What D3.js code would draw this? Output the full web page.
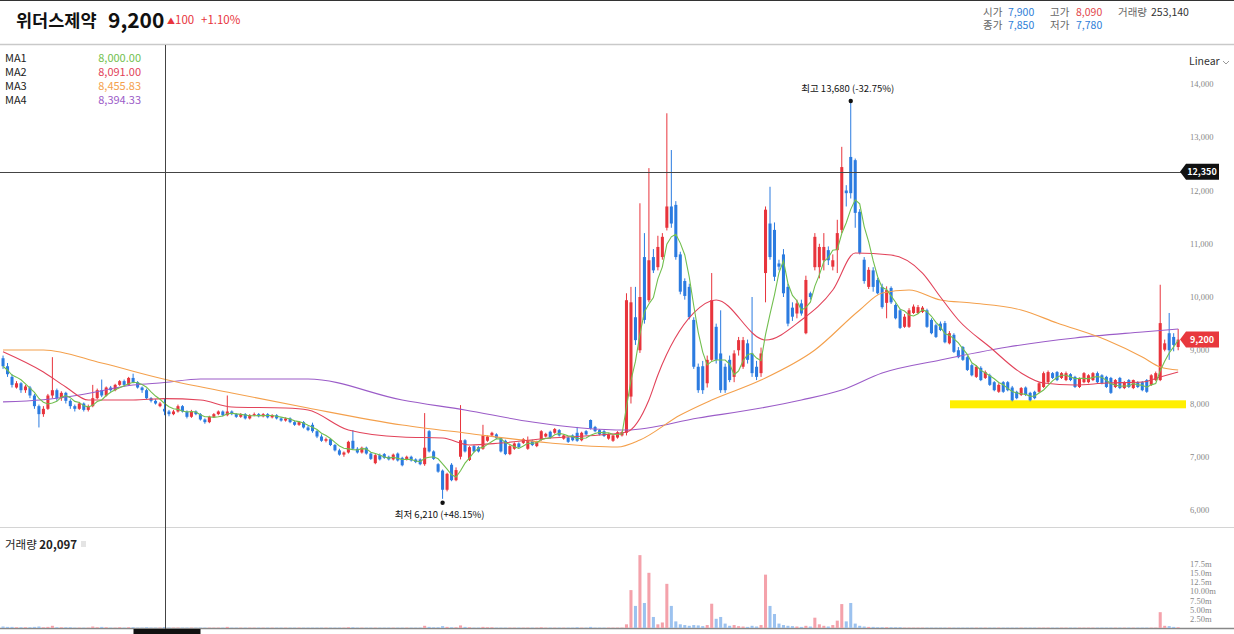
<!DOCTYPE html>
<html><head><meta charset="utf-8">
<script src="https://cdn.jsdelivr.net/npm/d3@7"></script>
<style>
html,body{margin:0;padding:0;background:#fff;}
svg{display:block;font-family:"Noto Sans CJK KR","Noto Sans",sans-serif;}
</style></head>
<body><svg id="c" width="1234" height="634"></svg>
<script>
// Daily candles: open / high / low / close (KRW), volume in millions of shares
const opens = [
8850,8700,8500,8300,8380,8250,8300,8150,7950,7800, 7900,8150,8250,8100,8200,8050,7950,7900,8000,7880,
7950,8100,8250,8150,8300,8250,8350,8420,8350,8480, 8400,8300,8250,8100,8050,7950,7900,7850,7800,7850,
7950,7850,7750,7850,7800,7700,7650,7750,7800,7850, 7780,7850,7800,7750,7800,7720,7780,7800,7760,7800,
7740,7780,7720,7680,7720,7650,7600,7650,7550,7600, 7480,7380,7300,7330,7220,7120,7040,7080,7300,7150,
7080,7170,7060,6880,7030,7050,7000,6950,7060,6980, 6950,7000,6950,6950,6860,7480,7100,6860,6740,6380,
6850,6560,7000,7310,6940,7200,7180,7150,7300,7400, 7420,7350,7300,7050,7150,7250,7260,7150,7300,7200,
7320,7380,7470,7450,7500,7340,7360,7400,7450,7310, 7480,7690,7560,7500,7480,7340,7300,7360,7400,7450,
8130,9620,9000,10750,9940,10750,10560,10750,11300,11700, 11730,10800,10300,10190,9570,8690,8700,8380,8820,9440,
8940,8690,8820,8500,9000,8690,9130,8940,8690,8570, 10450,11380,11260,10630,10800,10190,9800,9690,9880,9320,
10070,10560,10560,10690,10880,10570,10880,11260,12000,12630, 12570,11600,10700,10190,10500,10320,10190,9890,10170,9850,
9750,9440,9440,9700,9700,9720,9750,9570,9470,9500, 9510,9130,9290,9000,9060,8870,8720,8500,8670,8480,
8530,8400,8220,8400,8400,8300,8220,8160,8300,8200, 8220,8220,8310,8400,8570,8590,8480,8440,8550,8500,
8310,8400,8400,8440,8570,8530,8500,8480,8310,8480, 8290,8440,8290,8400,8400,8440,8350,8440,8440,9010,
9320,9250,9060
];
const highs = [
8900,8760,8550,8420,8400,8350,8330,8180,7980,7950, 8180,8870,8280,8230,8220,8080,7980,8030,8020,7980,
8350,8280,8450,8320,8330,8370,8440,8450,8500,8560, 8420,8320,8280,8120,8080,8030,8090,7880,7880,7980,
7970,7870,7880,7870,7820,7720,7770,7820,7870,7870, 8150,7870,7820,7820,7820,7800,7830,7820,7820,7820,
7800,7800,7740,7740,7740,7680,7670,7670,7580,7640, 7500,7420,7360,7350,7240,7150,7100,7300,7500,7180,
7190,7190,7080,7050,7060,7070,7020,7060,7080,7000, 7020,7020,6970,6970,7820,7500,7120,6880,6760,6700,
6880,6800,7970,7330,7200,7220,7200,7600,7400,7470, 7440,7370,7320,7220,7270,7270,7350,7380,7320,7300,
7500,7450,7490,7540,7520,7420,7380,7420,7560,7470, 7500,7700,7580,7520,7500,7440,7420,7480,7480,10070,
10190,10190,11760,11200,12420,10900,11150,11200,13450,12760, 11800,10850,10350,10250,9620,8750,8800,8900,10450,9500,
9750,8750,8900,9000,9250,9250,9200,10000,8800,9050, 11700,12070,11400,10700,10900,10250,9900,9950,9950,10400,
10100,11200,11000,11200,10950,10800,11450,12820,12100,13680, 12600,11650,10750,10560,10560,10360,10250,10200,10200,9880,
9780,9680,9790,9860,9850,9830,9780,9600,9500,9540, 9550,9360,9320,9060,9080,8900,8750,8720,8700,8620,
8560,8420,8380,8420,8420,8330,8240,8310,8320,8220, 8240,8400,8600,8620,8590,8610,8590,8600,8570,8520,
8490,8590,8550,8590,8600,8550,8520,8500,8460,8500, 8420,8460,8450,8420,8420,8460,8550,8600,10230,9200,
9700,9320,9400
];
const lows = [
8650,8500,8300,8280,8200,8200,8100,7900,7550,7750, 7880,8100,8050,8050,8000,7900,7850,7880,7850,7850,
7930,8080,8120,8130,8220,8230,8330,8320,8330,8380, 8280,8200,8080,8020,7980,7930,7780,7760,7780,7830,
7830,7720,7730,7780,7680,7620,7630,7730,7780,7760, 7760,7780,7730,7730,7700,7700,7760,7740,7740,7720,
7720,7700,7660,7660,7630,7580,7580,7530,7480,7450, 7350,7280,7270,7200,7100,7020,7000,7060,7130,7060,
7060,7040,6940,6860,6930,6960,6930,6930,6910,6820, 6930,6910,6880,6840,6830,7080,6940,6700,6210,6350,
6540,6540,6950,7080,6920,7080,7080,7130,7280,7380, 7330,7080,7030,7030,7130,7160,7240,7130,7200,7180,
7300,7360,7340,7430,7380,7320,7260,7290,7280,7290, 7400,7510,7460,7400,7370,7320,7280,7340,7380,7400,
8000,9100,8950,9500,9900,10450,10500,10700,11250,11300, 10700,10050,9950,9580,8650,8200,8180,8300,8800,8750,
8200,8200,8400,8400,8900,8650,8750,8500,8440,8500, 9900,10700,10300,10500,10000,9450,9550,9600,9650,9300,
9950,10500,10350,10500,10600,10500,10450,11200,11700,11850, 11300,10800,10250,10150,10100,10050,9780,9600,9870,9580,
9400,9420,9420,9680,9680,9700,9420,9300,9230,9360, 9130,9110,8950,8850,8800,8610,8510,8480,8420,8460,
8330,8230,8200,8200,8230,8040,8080,8140,8140,8040, 8080,8200,8290,8380,8460,8420,8460,8420,8420,8290,
8290,8380,8380,8420,8380,8360,8290,8180,8290,8270, 8270,8290,8270,8290,8230,8200,8330,8420,8420,8980,
8820,8980,9000
];
const closes = [
8700,8550,8350,8380,8250,8320,8150,7950,7800,7900, 8150,8250,8100,8200,8050,7950,7900,8000,7880,7950,
8100,8250,8150,8300,8250,8350,8420,8350,8480,8400, 8300,8250,8100,8050,8000,8000,7850,7800,7850,7950,
7850,7750,7850,7800,7700,7650,7750,7800,7850,7780, 7850,7800,7750,7800,7720,7780,7800,7760,7800,7740,
7780,7720,7680,7720,7650,7600,7650,7550,7500,7480, 7380,7300,7330,7220,7120,7040,7080,7280,7150,7080,
7170,7060,6960,7030,6950,6980,6950,7040,6930,6840, 7000,6930,6900,6860,7170,7100,6960,6720,6380,6680,
6560,6750,7310,7100,7180,7100,7100,7400,7380,7450, 7350,7100,7050,7200,7250,7180,7330,7300,7220,7280,
7480,7430,7360,7520,7400,7400,7280,7310,7300,7450, 7420,7530,7480,7420,7390,7420,7400,7460,7460,9940,
9900,9190,10000,9570,10690,10500,10940,11130,11700,11380, 10750,10100,10020,9620,8690,8250,8250,8820,9940,8820,
8250,8250,8440,8940,9190,9190,8820,8570,8500,8940, 11640,10750,10380,10570,10070,9500,9630,9880,9690,10320,
10000,11130,10940,10940,10690,10690,11200,12440,11950,11950, 11580,10830,10300,10510,10190,10070,9810,10130,9900,9600,
9420,9630,9750,9820,9810,9800,9440,9320,9250,9380, 9150,9320,8970,8870,8820,8630,8530,8690,8440,8590,
8350,8250,8350,8220,8250,8060,8100,8290,8160,8060, 8100,8380,8570,8590,8480,8440,8570,8570,8440,8310,
8470,8570,8530,8570,8400,8380,8310,8200,8440,8290, 8400,8310,8440,8310,8250,8220,8530,8570,9510,9130,
9000,9100,9200
];
const volumes = [
0.4,0.3,0.3,0.2,0.2,0.2,0.2,0.3,0.4,0.2, 0.3,0.6,0.2,0.2,0.2,0.2,0.1,0.1,0.1,0.1,
0.4,0.2,0.3,0.2,0.1,0.1,0.2,0.1,0.2,0.2, 0.1,0.1,0.2,0.1,0.1,0.1,0.25,0.1,0.1,0.1,
0.1,0.1,0.1,0.1,0.1,0.1,0.1,0.1,0.1,0.1, 0.3,0.1,0.1,0.1,0.1,0.1,0.1,0.1,0.1,0.1,
0.1,0.1,0.1,0.1,0.1,0.1,0.1,0.1,0.1,0.1, 0.1,0.1,0.1,0.1,0.1,0.1,0.1,0.2,0.2,0.1,
0.1,0.1,0.1,0.1,0.1,0.1,0.1,0.1,0.1,0.1, 0.1,0.1,0.1,0.1,0.6,0.3,0.2,0.2,0.5,0.3,
0.2,0.2,0.7,0.3,0.2,0.1,0.1,0.3,0.2,0.2, 0.1,0.1,0.1,0.1,0.1,0.1,0.1,0.1,0.1,0.1,
0.2,0.1,0.1,0.1,0.1,0.1,0.1,0.1,0.2,0.1, 0.1,0.3,0.1,0.1,0.1,0.1,0.1,0.1,0.1,1.0,
10.3,6.0,19.8,6.8,15.0,3.0,1.0,1.5,12.0,6.0, 1.8,1.0,0.8,0.6,0.8,0.7,0.5,0.8,6.6,2.5,
3.0,1.2,0.6,0.8,0.5,0.4,0.3,0.6,0.4,0.8, 14.5,6.0,3.8,1.2,0.8,0.6,0.5,0.4,0.3,0.6,
0.4,2.8,1.0,0.6,0.4,0.8,2.0,6.5,1.8,6.8, 1.2,0.6,0.4,0.3,0.3,0.2,0.2,0.2,0.2,0.2,
0.2,0.1,0.1,0.1,0.1,0.1,0.1,0.1,0.1,0.1, 0.1,0.1,0.1,0.1,0.1,0.1,0.1,0.1,0.1,0.1,
0.1,0.1,0.1,0.1,0.1,0.1,0.1,0.1,0.1,0.1, 0.1,0.1,0.1,0.1,0.1,0.1,0.1,0.1,0.1,0.1,
0.1,0.1,0.1,0.1,0.1,0.1,0.1,0.1,0.1,0.1, 0.1,0.1,0.1,0.1,0.1,0.1,0.1,0.1,4.3,0.6,
0.5,0.3,0.2
];
// Moving-average curves as [candle index, price]
const ma2Points = [[0,8970],[9,8590],[14,8310],[19,8066],[29,8066],[36,8091],[44,8066],[51,7934],[63,7915],[68,7878],
[77,7502],[89,7371],[98,7352],[104,7220],[111,7258],[122,7352],[133,7408],[139,7465],[144,8066],[146,8535],
[154,9700],[159,9944],[170,9192],[178,9568],[185,10131],[190,10826],[198,10789],[205,10450],[209,10000],[213,9568],
[220,9061],[227,8573],[232,8384],[239,8347],[246,8384],[254,8403],[258,8497],[262,8591]];
const ma3Points = [[0,9005],[9,9005],[22,8760],[36,8456],[51,8197],[68,7915],[89,7596],[103,7446],[122,7258],[137,7183],
[142,7314],[151,7784],[158,8066],[169,8441],[181,9005],[191,9756],[196,10075],[202,10131],[209,9944],[216,9887],
[227,9756],[235,9512],[246,9192],[254,8873],[258,8685],[262,8629]];
const ma4Points = [[0,8030],[9,8070],[17,8160],[29,8347],[36,8394],[44,8460],[68,8460],[89,8066],[103,7878],[118,7652],
[129,7540],[139,7502],[155,7727],[169,7915],[178,8066],[187,8253],[196,8573],[209,8817],[224,9061],[239,9230],
[254,9343],[262,9399]];
const maNames = ["MA1","MA2","MA3","MA4"];
const maValues = ["8,000.00","8,091.00","8,455.83","8,394.33"];
const priceTicks = [6000,7000,8000,9000,10000,11000,12000,13000,14000];
const volTicks = [2.5,5,7.5,10,12.5,15,17.5];
const volTickLabels = ["2.50m","5.00m","7.50m","10.00m","12.5m","15.0m","17.5m"];

const UP = "#e8343c", DOWN = "#2b7be0";
const maColors = ["#72bf4f","#e2435a","#f4a04c","#9b5cc8"];
const svg = d3.select("#c");
const N = closes.length;
const candles = d3.range(N).map(i => ({i, o:opens[i], h:highs[i], l:lows[i], c:closes[i], v:volumes[i]}));

const x = d3.scaleBand().domain(d3.range(N)).range([0.8, 1180.4]).paddingInner(0.32).paddingOuter(0.16);
const bw = x.bandwidth();
const cx = i => x(i) + bw / 2;
const y = d3.scaleLinear().domain([6000, 14000]).range([510, 84]);
const yv = d3.scaleLinear().domain([0, 17.5]).range([628, 563.6]);

// header
svg.append("line").attr("x1",0).attr("x2",1234).attr("y1",0.5).attr("y2",0.5).attr("stroke","#333");
svg.append("line").attr("x1",0).attr("x2",1234).attr("y1",44.5).attr("y2",44.5).attr("stroke","#c9c9c9").attr("stroke-width",1.5);
svg.append("text").attr("x",16).attr("y",27).attr("font-size",17.5).attr("font-weight",700).attr("fill","#111").text("위더스제약");
svg.append("text").attr("x",108).attr("y",28).attr("font-size",21).attr("font-weight",700).attr("fill","#111").text("9,200");
svg.append("text").attr("x",167).attr("y",24).attr("font-size",11.5).attr("fill",UP)
  .html('<tspan font-size="8">▲</tspan>100');
svg.append("text").attr("x",201).attr("y",24).attr("font-size",11.5).attr("fill",UP).text("+1.10%");

const info = [
  ["시가",983,16],["7,900",1008,16,"#2f80d8"],["고가",1050,16],["8,090",1076,16,"#e2464b"],["거래량",1118,16],["253,140",1151,16,"#333"],
  ["종가",983,29],["7,850",1008,29,"#2f80d8"],["저가",1050,29],["7,780",1076,29,"#2f80d8"]
];
info.forEach(d => svg.append("text").attr("x",d[1]).attr("y",d[2]).attr("font-size",10.5)
  .attr("fill", d[3] || "#666").text(d[0]));

// pane separators
svg.append("line").attr("x1",0).attr("x2",1234).attr("y1",527.5).attr("y2",527.5).attr("stroke","#d4d4d4");
svg.append("line").attr("x1",0).attr("x2",1234).attr("y1",628.5).attr("y2",628.5).attr("stroke","#888").attr("stroke-width",1.5);

// price axis
const ay = svg.append("g").attr("transform","translate(1190,0)")
  .call(d3.axisRight(y).tickValues(priceTicks).tickSize(0).tickPadding(0).tickFormat(d3.format(",")));
ay.select(".domain").remove();
ay.selectAll("text").attr("font-size",8.5).attr("fill","#888").attr("font-family","Liberation Serif, serif");

// volume axis
const av = svg.append("g").attr("transform","translate(1190,0)")
  .call(d3.axisRight(yv).tickValues(volTicks).tickSize(0).tickPadding(0).tickFormat((d,k) => volTickLabels[k]));
av.select(".domain").remove();
av.selectAll("text").attr("font-size",8.5).attr("fill","#888").attr("font-family","Liberation Serif, serif");

svg.append("text").attr("x",1189).attr("y",65).attr("font-size",10.5).attr("fill","#333").text("Linear");
svg.append("path").attr("d","M1223,61 l3,3 l3,-3").attr("fill","none").attr("stroke","#999");

// highlight band
svg.append("rect").attr("x",950).attr("y",y(8060)).attr("width",236).attr("height",8).attr("fill","#ffef00");

// volume bars
svg.append("g").selectAll("rect").data(candles).join("rect")
  .attr("x", d => x(d.i)).attr("width", bw)
  .attr("y", d => yv(d.v)).attr("height", d => yv(0) - yv(d.v))
  .attr("fill", d => d.c >= d.o ? "#f4a2ab" : "#9cc2ef");

// candles
const cg = svg.append("g");
cg.selectAll("line").data(candles).join("line")
  .attr("x1", d => cx(d.i)).attr("x2", d => cx(d.i))
  .attr("y1", d => y(d.h)).attr("y2", d => y(d.l))
  .attr("stroke", d => d.c >= d.o ? UP : DOWN).attr("stroke-width",1);
cg.selectAll("rect").data(candles).join("rect")
  .attr("x", d => x(d.i)).attr("width", bw)
  .attr("y", d => y(Math.max(d.o, d.c)))
  .attr("height", d => Math.max(1, Math.abs(y(d.o) - y(d.c))))
  .attr("fill", d => d.c >= d.o ? UP : DOWN);

// moving averages
const ma1 = candles.map(d => {
  const w = closes.slice(Math.max(0, d.i - 4), d.i + 1);
  return [d.i, d3.mean(w)];
});
const smooth = d3.line().x(d => cx(d[0])).y(d => y(d[1])).curve(d3.curveMonotoneX);
const straight = d3.line().x(d => cx(d[0])).y(d => y(d[1]));
[[ma4Points,3,smooth],[ma3Points,2,smooth],[ma2Points,1,smooth],[ma1,0,straight]].forEach(([pts,k,gen]) => {
  svg.append("path").attr("d", gen(pts)).attr("fill","none").attr("stroke", maColors[k]).attr("stroke-width",1.1);
});

// legend
maNames.forEach((n,k) => {
  svg.append("text").attr("x",5).attr("y",62 + k*14).attr("font-size",11).attr("fill","#222").text(n);
  svg.append("text").attr("x",141).attr("y",62 + k*14).attr("font-size",11).attr("text-anchor","end")
    .attr("fill", maColors[k]).text(maValues[k]);
});

// extreme annotations
const iMax = d3.maxIndex(highs), iMin = d3.minIndex(lows);
svg.append("circle").attr("cx",cx(iMax)).attr("cy",y(highs[iMax])).attr("r",2.2).attr("fill","#111");
svg.append("text").attr("x",cx(iMax)-3).attr("y",y(highs[iMax])-9).attr("text-anchor","middle")
  .attr("font-size",9.5).attr("fill","#111").text("최고 13,680 (-32.75%)");
svg.append("circle").attr("cx",cx(iMin)).attr("cy",y(lows[iMin])+4).attr("r",2.2).attr("fill","#111");
svg.append("text").attr("x",cx(iMin)-3).attr("y",y(lows[iMin])+19).attr("text-anchor","middle")
  .attr("font-size",9.5).attr("fill","#111").text("최저 6,210 (+48.15%)");

// crosshair
const hx = Math.round(cx(36)) + 0.5;
svg.append("line").attr("x1",hx).attr("x2",hx).attr("y1",45).attr("y2",629).attr("stroke","#444");
svg.append("line").attr("x1",0).attr("x2",1182).attr("y1",Math.round(y(12350))+0.5).attr("y2",Math.round(y(12350))+0.5).attr("stroke","#444");
svg.append("rect").attr("x",hx-32).attr("y",629).attr("width",67).attr("height",8).attr("fill","#111");

// price tags
function tag(val, fill) {
  const yy = y(val);
  svg.append("path").attr("d",`M1180,${yy} L1186,${yy-8} L1219,${yy-8} L1219,${yy+8} L1186,${yy+8} Z`).attr("fill",fill);
  svg.append("text").attr("x",1202).attr("y",yy+3.5).attr("text-anchor","middle").attr("font-size",9)
    .attr("font-weight",700).attr("fill","#fff").text(d3.format(",")(val));
}
tag(12350, "#111");
tag(closes[N-1], "#e8383d");

// volume pane title
svg.append("text").attr("x",5).attr("y",549).attr("font-size",11.5).attr("fill","#222")
  .html('거래량 <tspan font-weight="700">20,097</tspan>');
svg.append("rect").attr("x",81).attr("y",541).attr("width",5).attr("height",6).attr("fill","#e4e4e4");
</script></body></html>
